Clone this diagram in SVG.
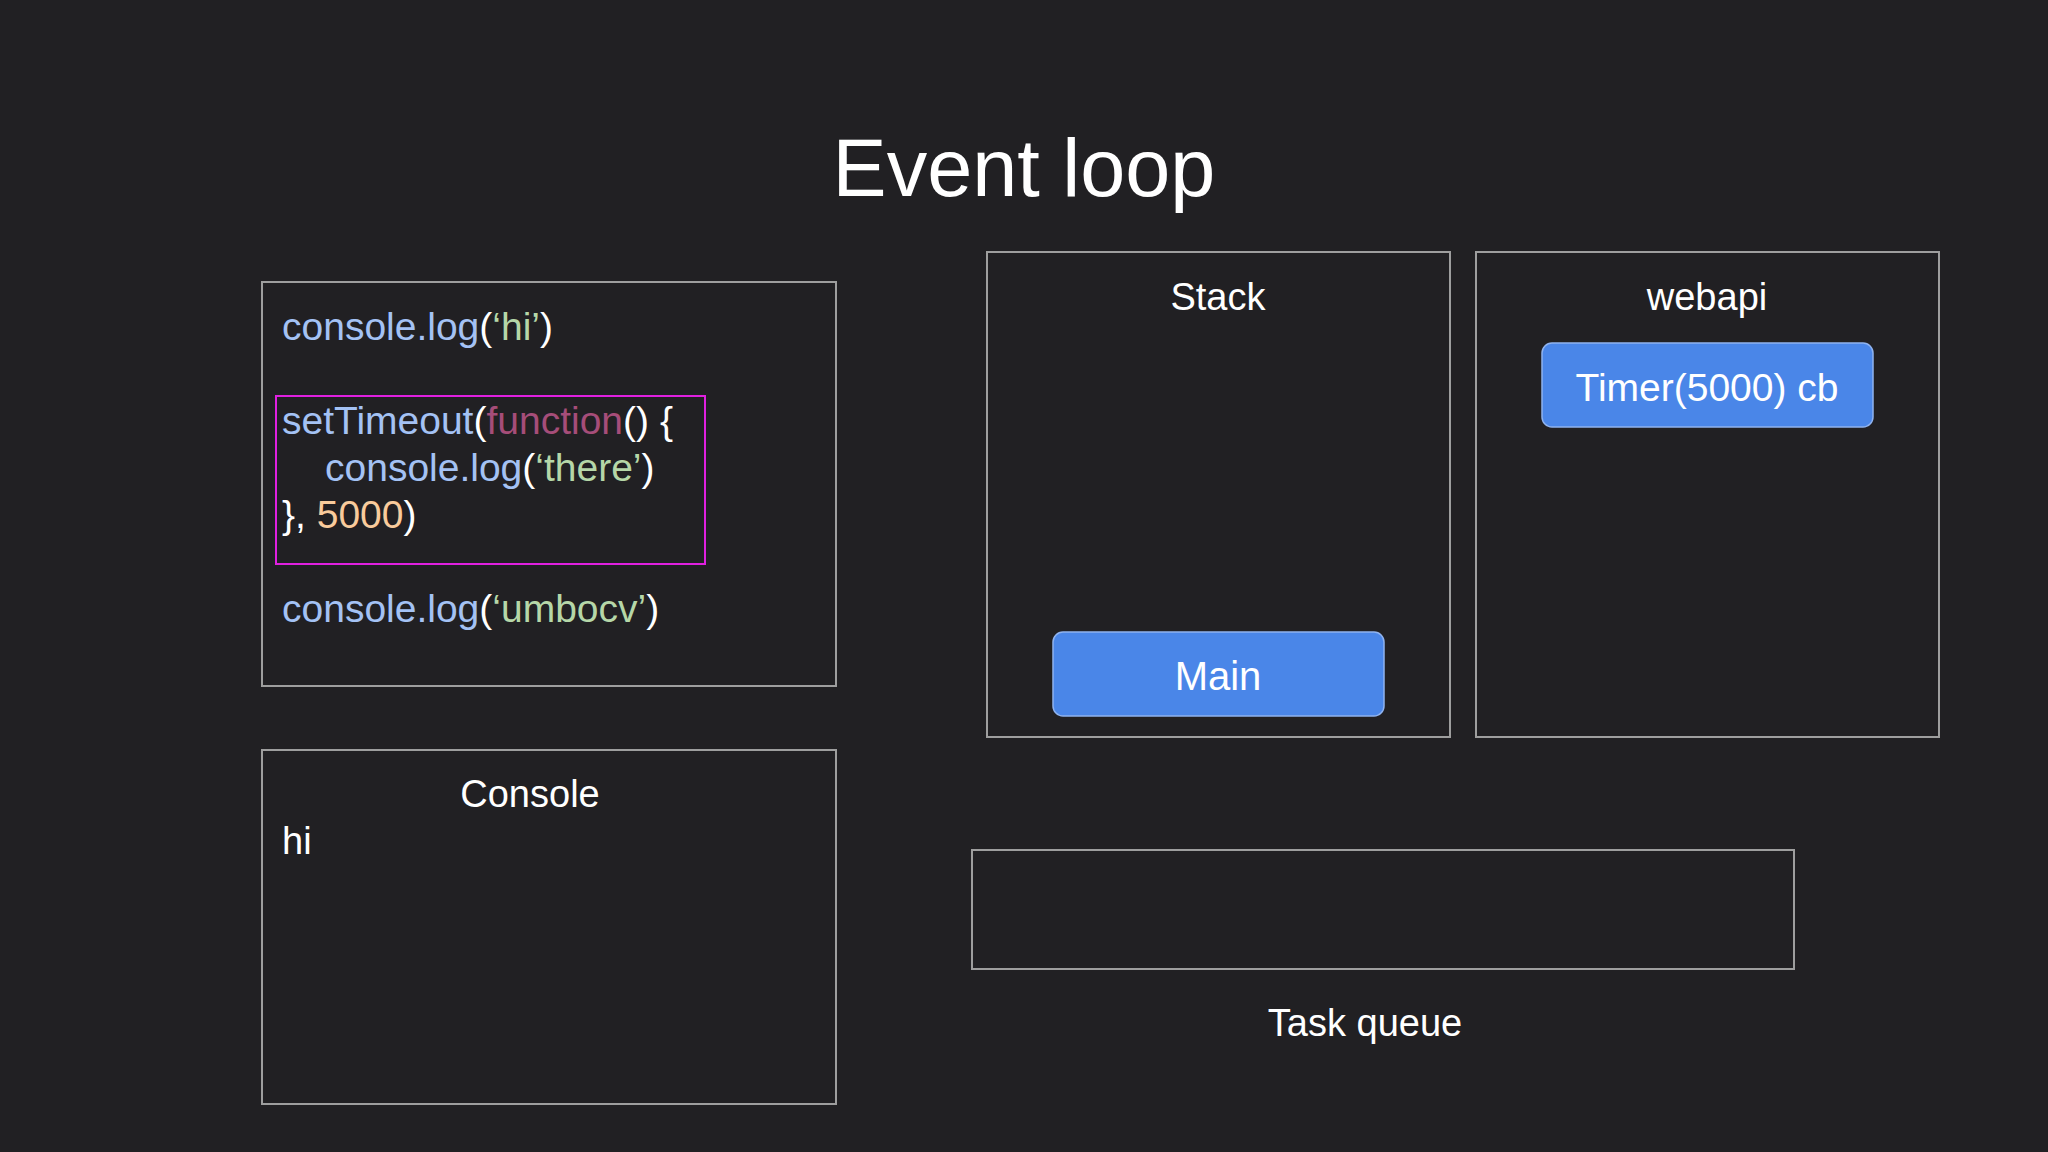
<svg xmlns="http://www.w3.org/2000/svg" width="2048" height="1152" viewBox="0 0 2048 1152">
<style>
text{font-family:"Liberation Sans",Arial,sans-serif;fill:#ffffff}
.box{fill:none;stroke:#9e9e9e;stroke-width:2}
.btn{fill:#4a86e8;stroke:#8fb3f0;stroke-width:1.5}
.code{font-size:39px}
.b{fill:#a4c2f4}.g{fill:#b6d7a8}.p{fill:#a64d79}.o{fill:#f9cb9c}.w{fill:#ffffff}
.lbl{font-size:38px;text-anchor:middle}
</style>
<rect width="2048" height="1152" fill="#212023"/>
<text x="1024" y="196" font-size="81" text-anchor="middle">Event loop</text>
<g id="code">
<rect class="box" x="262" y="282" width="574" height="404"/>
<text class="code" x="282" y="340"><tspan class="b">console.log</tspan><tspan class="w">(</tspan><tspan class="g">‘hi’</tspan><tspan class="w">)</tspan></text>
<rect x="276" y="396" width="429" height="168" fill="none" stroke="#e020e0" stroke-width="2"/>
<text class="code" x="282" y="434"><tspan class="b">setTimeout</tspan><tspan class="w">(</tspan><tspan class="p">function</tspan><tspan class="w">() {</tspan></text>
<text class="code" x="325" y="481"><tspan class="b">console.log</tspan><tspan class="w">(</tspan><tspan class="g">‘there’</tspan><tspan class="w">)</tspan></text>
<text class="code" x="282" y="528"><tspan class="w">}, </tspan><tspan class="o">5000</tspan><tspan class="w">)</tspan></text>
<text class="code" x="282" y="622"><tspan class="b">console.log</tspan><tspan class="w">(</tspan><tspan class="g">‘umbocv’</tspan><tspan class="w">)</tspan></text>
</g>
<g id="console">
<rect class="box" x="262" y="750" width="574" height="354"/>
<text class="lbl" x="530" y="807">Console</text>
<text x="282" y="854" font-size="38">hi</text>
</g>
<g id="stack">
<rect class="box" x="987" y="252" width="463" height="485"/>
<text class="lbl" x="1218" y="310">Stack</text>
</g>
<g id="main">
<rect class="btn" x="1053" y="632" width="331" height="84" rx="10"/>
<text x="1218" y="690" font-size="40" text-anchor="middle">Main</text>
</g>
<g id="webapi">
<rect class="box" x="1476" y="252" width="463" height="485"/>
<text class="lbl" x="1707" y="310">webapi</text>
</g>
<g id="timer">
<rect class="btn" x="1542" y="343" width="331" height="84" rx="10"/>
<text x="1707" y="401" font-size="39" text-anchor="middle">Timer(5000) cb</text>
</g>
<g id="taskqueue">
<rect class="box" x="972" y="850" width="822" height="119"/>
<text class="lbl" x="1365" y="1036">Task queue</text>
</g>
<g id="connectors"/>
</svg>
